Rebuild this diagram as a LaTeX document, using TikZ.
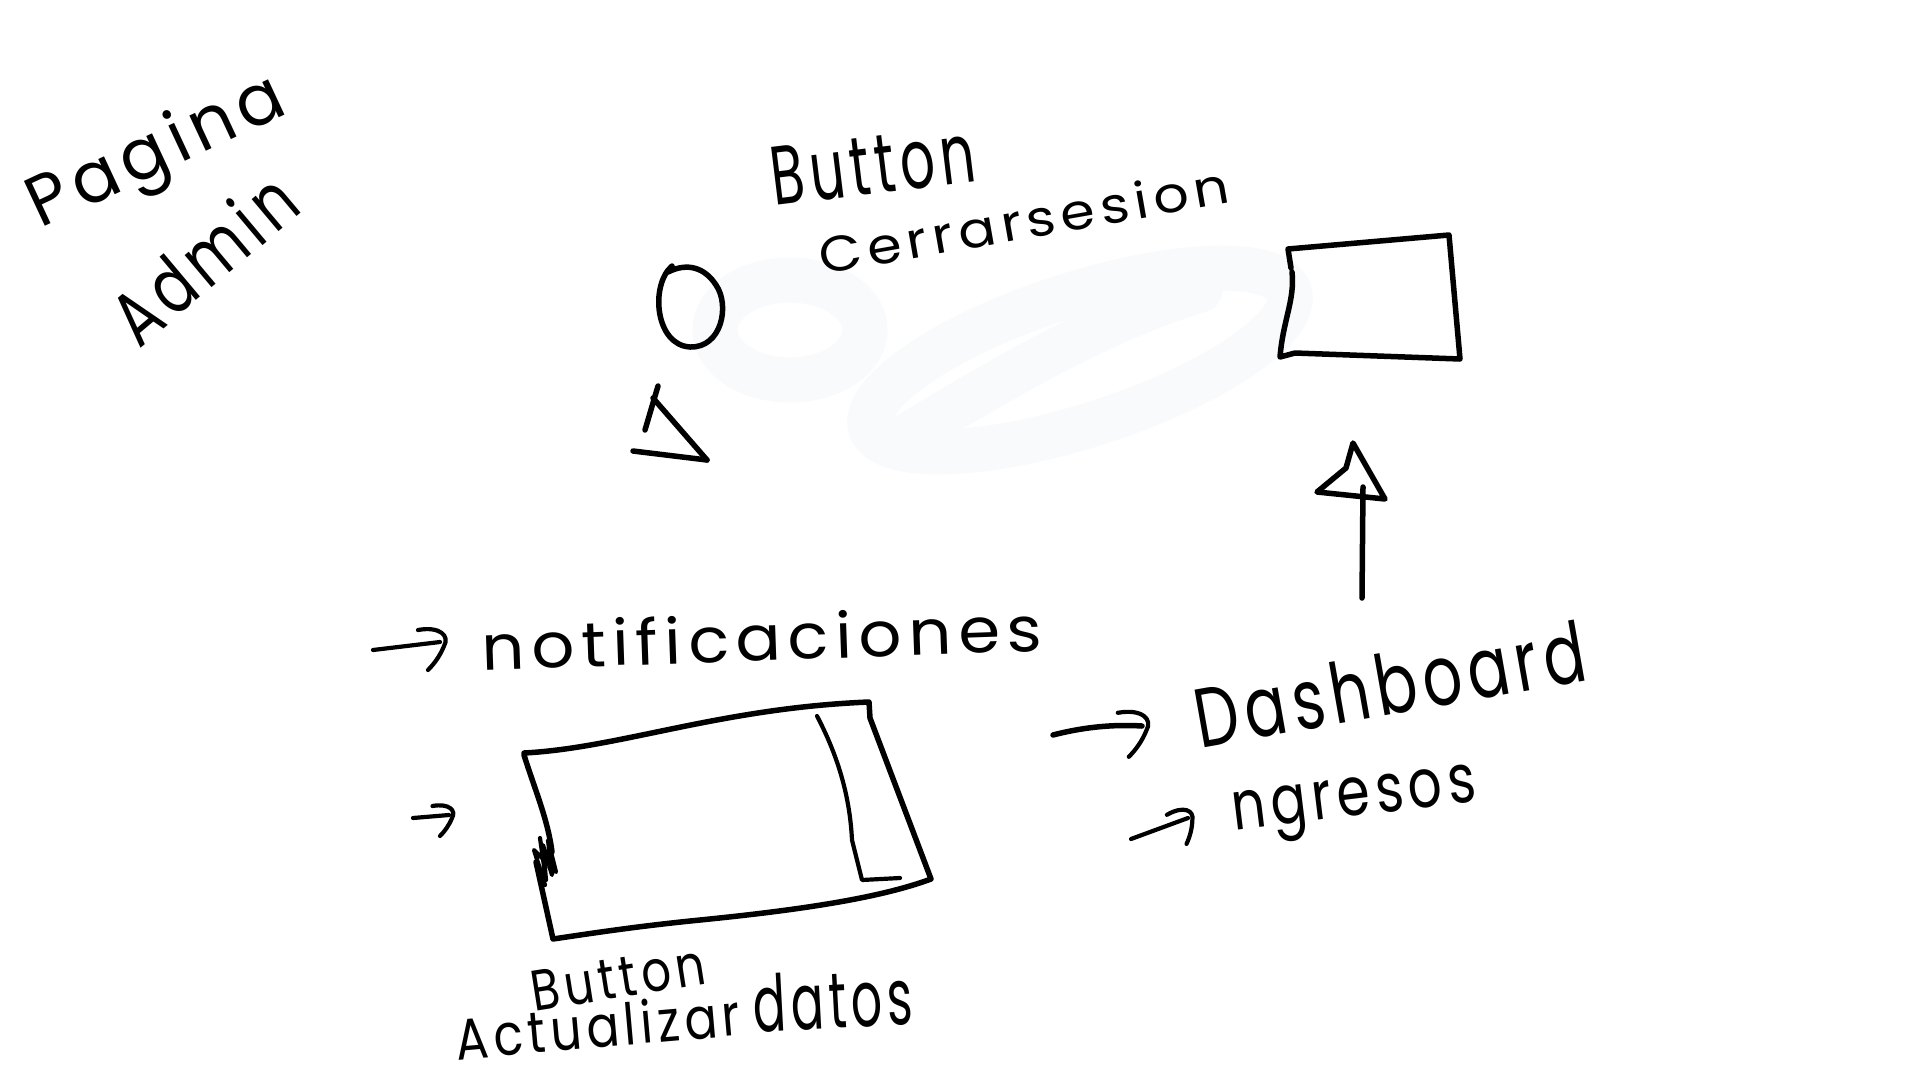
\documentclass[tikz,border=0pt]{standalone}
\usepackage{fontspec}
\setmainfont{Poppins}[LetterSpace=10]
\usepackage{graphicx}
\newcommand{\tx}[3]{\resizebox{#1pt}{#2pt}{#3}}
\definecolor{smudge}{RGB}{248,250,251}
\tikzset{
  ink/.style={line width=5.5pt, line cap=round, line join=round, black},
  thinink/.style={line width=4.2pt, line cap=round, line join=round, black},
  hw/.style={inner sep=0pt, text=black},
  hook/.pic={\draw[thinink] (-22,-12) .. controls (0,-16) and (10,-6) .. (4,4) .. controls (0,14) and (-6,22) .. (-12,28);},
  blob/.style={line width=45pt, smudge, line cap=round}
}
\begin{document}
\begin{tikzpicture}[x=1pt,y=-1pt]
\fill[white] (0,0) rectangle (1920,1080);
\useasboundingbox (0,0) rectangle (1920,1080);
% faint eraser smudge
\draw[blob] (790,330) ellipse [x radius=75, y radius=50];
\draw[blob,rotate around={18:(1080,360)}] (1080,360) ellipse [x radius=220, y radius=65];
\draw[blob] (900,440) .. controls (1000,380) and (1100,320) .. (1200,290);

% titles
\node[hw, rotate=25] (pag) at (158,155) {\tx{275}{54}{Pagina}};
\node[hw, rotate=40] (adm) at (203,258) {\tx{215}{58}{Admin}};

% top texts
\node[hw, rotate=7] (btn1) at (873,165) {\tx{205}{58}{Button}};
\node[hw, rotate=10] (cer) at (1024,220) {\tx{415}{38}{Cerrarsesion}};

% circle
\draw[ink] (672,266) .. controls (650,285) and (655,345) .. (690,347)
  .. controls (722,348) and (730,305) .. (716,285)
  .. controls (705,268) and (688,262) .. (668,272);
% triangle
\coordinate (tt) at (658,386);
\draw[ink] (tt) -- (645,430);
\draw[ink] (653,398) -- (707,460);
\draw[ink] (633,451) -- (707,460);

% right rectangle
\draw[ink] (1291,268) -- (1288,249) -- (1449,235) -- (1460,359) -- (1295,353) -- (1280,357)
  .. controls (1283,320) and (1295,300) .. (1292,272);

% up arrow
\coordinate (ub) at (1362,598);
\coordinate (ut) at (1363,487);
\draw[ink] (ub) -- (ut);
\draw[ink] (1317,492) -- (1346,468) -- (1353,443) -- (1385,499) -- cycle;

% notificaciones
\coordinate (n0) at (373,650);
\coordinate (n1) at (440,642);
\draw[thinink] (n0) -- (n1);
\pic at (n1) {hook};
\node[hw, rotate=2] (notif) at (762,637) {\tx{560}{48}{notificaciones}};

% bottom rectangle
\draw[ink] (524,753) .. controls (620,748) and (720,708) .. (869,702) -- (870,718) -- (931,879)
  .. controls (880,898) and (800,910) .. (700,920) .. controls (640,926) and (600,932) .. (553,939) -- (536,862);
\draw[ink] (524,755) .. controls (535,790) and (548,820) .. (552,852);
\draw[thinink] (540,838) -- (546,880) -- (543,845) -- (552,875) -- (548,840) -- (556,872) -- (534,850) -- (545,885);
\draw[thinink] (817,716) .. controls (840,760) and (850,800) .. (852,840) -- (862,880) -- (900,878);

% small arrow
\coordinate (s0) at (413,818);
\coordinate (s1) at (449,815);
\draw[thinink] (s0) -- (s1);
\pic[scale=0.75] at (s1) {hook};

% Dashboard
\coordinate (d0) at (1053,735);
\coordinate (d1) at (1142,726);
\draw[ink] (d0) .. controls (1080,728) and (1110,724) .. (d1);
\pic[scale=1.1] at (d1) {hook};
\node[hw, rotate=10] (dash) at (1390,684) {\tx{395}{62}{Dashboard}};

% ngresos
\coordinate (g0) at (1131,839);
\coordinate (g1) at (1188,818);
\draw[thinink] (g0) -- (g1);
\pic[scale=0.85, rotate=20] at (g1) {hook};
\node[hw, rotate=7] (ingr) at (1355,806) {\tx{245}{38}{ngresos}};

% bottom texts
\node[hw, rotate=9] (btn2) at (618,978) {\tx{175}{40}{Button}};
\node[hw, rotate=5] (act) at (598,1026) {\tx{285}{44}{Actualizar}};
\node[hw, rotate=3] (dat) at (833,1000) {\tx{160}{58}{datos}};
\end{tikzpicture}
\end{document}
